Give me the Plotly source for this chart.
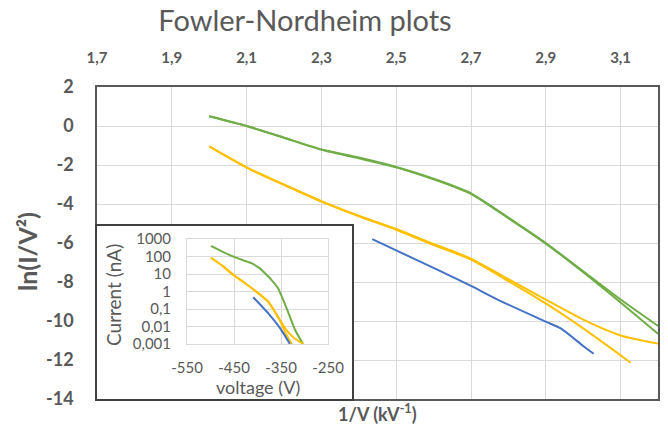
import plotly.graph_objects as go

# ---------------- data ----------------
# Main Fowler-Nordheim plot (x = 1/V in kV^-1, y = ln(I/V^2))
green1_x = [2.0, 2.1, 2.2, 2.3, 2.4, 2.5, 2.6, 2.65, 2.7, 2.75, 2.8, 2.9, 3.0, 3.1, 3.2]
green1_y = [0.5, 0.0, -0.6, -1.2, -1.62, -2.1, -2.7, -3.05, -3.45, -4.05, -4.7, -6.0, -7.45, -8.9, -10.25]
green2_x = [2.0, 2.1, 2.2, 2.3, 2.4, 2.5, 2.6, 2.65, 2.7, 2.75, 2.8, 2.9, 3.0, 3.1, 3.2]
green2_y = [0.5, 0.0, -0.6, -1.22, -1.65, -2.12, -2.73, -3.08, -3.48, -4.08, -4.73, -6.03, -7.5, -9.05, -10.65]

yellow1_x = [2.0, 2.1, 2.2, 2.3, 2.4, 2.5, 2.6, 2.7, 2.8, 2.9, 3.0, 3.1, 3.2]
yellow1_y = [-1.05, -2.12, -3.0, -3.85, -4.6, -5.28, -6.05, -6.8, -7.85, -8.9, -9.93, -10.74, -11.16]
yellow2_x = [2.0, 2.1, 2.2, 2.3, 2.4, 2.5, 2.6, 2.7, 2.8, 2.9, 3.0, 3.1, 3.127]
yellow2_y = [-1.05, -2.14, -3.02, -3.88, -4.63, -5.32, -6.1, -6.85, -7.95, -9.1, -10.38, -11.76, -12.14]

blue_x = [2.436, 2.5, 2.607, 2.7, 2.775, 2.9, 2.94, 3.0, 3.028]
blue_y = [-5.8, -6.38, -7.34, -8.2, -8.94, -10.03, -10.38, -11.28, -11.68]

# Inset: current (nA) vs voltage (V)
in_green_v = [-499, -475, -450, -430, -412, -395, -384, -370, -356, -338, -320, -303]
in_green_i = [400, 190, 95, 60, 40, 21, 11, 4.5, 1.5, 0.11, 0.0063, 0.001]
in_yel1_v = [-499, -475, -451, -430, -405, -377, -352, -338, -320, -302]
in_yel1_i = [85, 30, 8.7, 3.5, 1.1, 0.26, 0.023, 0.006, 0.002, 0.001]
in_yel2_v = [-499, -475, -451, -430, -405, -377, -352, -340, -327]
in_yel2_i = [85, 30, 8.7, 3.5, 1.1, 0.26, 0.021, 0.004, 0.001]
in_blue_v = [-409, -377, -352, -331]
in_blue_i = [0.47, 0.056, 0.008, 0.001]

x_ticks = [1.7, 1.9, 2.1, 2.3, 2.5, 2.7, 2.9, 3.1]
x_tick_text = ["1,7", "1,9", "2,1", "2,3", "2,5", "2,7", "2,9", "3,1"]
y_ticks = [2, 0, -2, -4, -6, -8, -10, -12, -14]
y_tick_text = ["2", "0", "-2", "-4", "-6", "-8", "-10", "-12", "-14"]
in_x_ticks = [-550, -450, -350, -250]
in_x_text = ["-550", "-450", "-350", "-250"]
in_y_vals = [0.001, 0.01, 0.1, 1, 10, 100, 1000]
in_y_text = ["0,001", "0,01", "0,1", "1", "10", "100", "1000"]

GREEN = "#70AD47"
YELLOW = "#FFC000"
BLUE = "#4472C4"
TXT = "#595959"
FONT = "Lato"

fig = go.Figure()

def main_line(x, y, c):
    fig.add_trace(go.Scatter(x=x, y=y, mode="lines", line=dict(color=c, width=2, shape="spline", smoothing=0.6),
                             xaxis="x", yaxis="y", showlegend=False, hoverinfo="skip"))

main_line(green1_x, green1_y, GREEN)
main_line(green2_x, green2_y, GREEN)
main_line(yellow1_x, yellow1_y, YELLOW)
main_line(yellow2_x, yellow2_y, YELLOW)
main_line(blue_x, blue_y, BLUE)

# invisible trace that creates the inset frame subplot
fig.add_trace(go.Scatter(x=[0.5], y=[0.5], mode="markers", marker=dict(opacity=0),
                         xaxis="x2", yaxis="y2", showlegend=False, hoverinfo="skip"))

def inset_line(x, y, c):
    fig.add_trace(go.Scatter(x=x, y=y, mode="lines", line=dict(color=c, width=2, shape="spline", smoothing=0.5),
                             xaxis="x3", yaxis="y3", showlegend=False, hoverinfo="skip"))

inset_line(in_green_v, in_green_i, GREEN)
inset_line(in_yel1_v, in_yel1_i, YELLOW)
inset_line(in_yel2_v, in_yel2_i, YELLOW)
inset_line(in_blue_v, in_blue_i, BLUE)

# page body has an 8px margin -> work in screen pixels, shift by OFF
OFF = 8
W, H = 668 - OFF, 428 - OFF
PL, PR, PT, PB = 97, 658, 87, 399          # plot area in screen px
L, R, T, B = PL - OFF, W - (PR - OFF), PT - OFF, H - (PB - OFF)
pw = PR - PL
ph = PB - PT

def dx(px):
    return (px - PL) / pw

def dy(py):
    return (PB - py) / ph

fig.update_layout(
    width=W, height=H,
    margin=dict(l=L, r=R, t=T, b=B, autoexpand=False),
    paper_bgcolor="white", plot_bgcolor="white",
    font=dict(family=FONT, color=TXT),
    title=dict(text="Fowler-Nordheim plots", x=(305 - OFF) / W, xref="container", xanchor="center",
               y=(H - (21 - OFF)) / H, yref="container", yanchor="middle",
               font=dict(size=29, color=TXT, family=FONT)),
    xaxis=dict(range=[1.7, 3.2], side="top", tickvals=x_ticks, ticktext=x_tick_text, automargin=False,
               showgrid=True, gridcolor="#D9D9D9", gridwidth=1,
               showline=True, linecolor="#595959", linewidth=1.5, mirror=True,
               zeroline=False, ticks="outside", ticklen=16, tickcolor="rgba(0,0,0,0)",
               tickfont=dict(size=15, color=TXT, family=FONT, weight="bold"), domain=[0, 1]),
    yaxis=dict(range=[-14, 2], tickvals=y_ticks, ticktext=y_tick_text, automargin=False,
               showgrid=True, gridcolor="#D9D9D9", gridwidth=1,
               showline=True, linecolor="#595959", linewidth=1.5, mirror=True,
               zeroline=False, ticks="outside", ticklen=18, tickcolor="rgba(0,0,0,0)",
               tickfont=dict(size=18, color=TXT, family=FONT, weight="bold"), domain=[0, 1]),
    xaxis2=dict(domain=[0, dx(352)], range=[0, 1], anchor="y2", showgrid=False, zeroline=False, automargin=False,
                showticklabels=False, showline=True, linecolor="#404040", linewidth=1.5, mirror=True),
    yaxis2=dict(domain=[0, dy(226)], range=[0, 1], anchor="x2", showgrid=False, zeroline=False, automargin=False,
                showticklabels=False, showline=True, linecolor="#404040", linewidth=1.5, mirror=True),
    xaxis3=dict(domain=[dx(187), dx(328)], range=[-550, -250], anchor="y3", tickvals=in_x_ticks,
                ticktext=in_x_text, automargin=False,
                showgrid=True, gridcolor="#D9D9D9", zeroline=False,
                showline=True, linecolor="#D9D9D9", linewidth=1, mirror=True,
                ticks="outside", ticklen=10, tickcolor="rgba(0,0,0,0)",
                tickfont=dict(size=15, color=TXT, family=FONT)),
    yaxis3=dict(domain=[dy(344), dy(239)], type="log", range=[-3, 3], anchor="x3", automargin=False,
                tickvals=in_y_vals, ticktext=in_y_text,
                showgrid=True, gridcolor="#D9D9D9", zeroline=False,
                showline=True, linecolor="#D9D9D9", linewidth=1, mirror=True,
                ticks="outside", ticklen=12, tickcolor="rgba(0,0,0,0)",
                tickfont=dict(size=15, color=TXT, family=FONT)),
    annotations=[
        dict(text="1/V (kV<sup>-1</sup>)", xref="paper", yref="paper", x=dx(377), y=dy(413),
             xanchor="center", yanchor="middle", showarrow=False,
             font=dict(size=18, color=TXT, family=FONT, weight="bold")),
        dict(text="ln(I/V²)", xref="paper", yref="paper", x=dx(27), y=dy(252), textangle=-90,
             xanchor="center", yanchor="middle", showarrow=False,
             font=dict(size=25, color=TXT, family=FONT, weight="bold")),
        dict(text="Current (nA)", xref="paper", yref="paper", x=dx(113), y=dy(295), textangle=-90,
             xanchor="center", yanchor="middle", showarrow=False,
             font=dict(size=19, color=TXT, family=FONT)),
        dict(text="voltage (V)", xref="paper", yref="paper", x=dx(258), y=dy(387),
             xanchor="center", yanchor="middle", showarrow=False,
             font=dict(size=18, color=TXT, family=FONT)),
    ],
)

fig.write_html("out.html")
